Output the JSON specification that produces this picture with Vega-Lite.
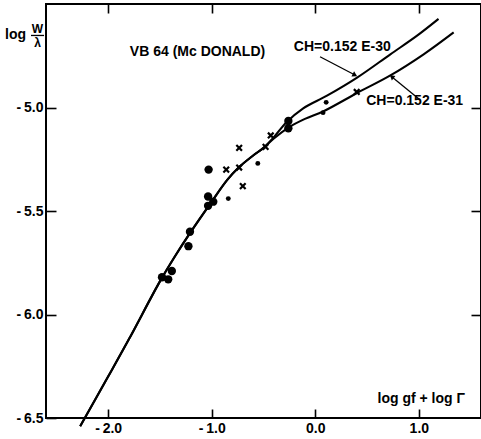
{
  "$schema": "https://vega.github.io/schema/vega-lite/v6.json",
  "width": 435,
  "height": 414,
  "autosize": {"type": "none"},
  "padding": {"left": 46, "top": 4, "right": 0, "bottom": 21},
  "background": "white",
  "config": {
    "view": {"stroke": "#000", "strokeWidth": 2},
    "font": "Liberation Sans",
    "axis": {
      "grid": false,
      "domain": false,
      "tickColor": "#000",
      "tickWidth": 1.6,
      "labelColor": "#000",
      "labelFont": "Liberation Sans",
      "labelFontWeight": "bold",
      "labelFontSize": 14,
      "titleColor": "#000",
      "titleFont": "Liberation Sans",
      "titleFontWeight": "bold",
      "titleFontSize": 14
    }
  },
  "datasets": {
    "curves": [
      {"curve": "CH=0.152 E-30", "x": -2.27, "y": -6.54},
      {"curve": "CH=0.152 E-30", "x": -2.0, "y": -6.30},
      {"curve": "CH=0.152 E-30", "x": -1.8, "y": -6.12},
      {"curve": "CH=0.152 E-30", "x": -1.5, "y": -5.84},
      {"curve": "CH=0.152 E-30", "x": -1.35, "y": -5.715},
      {"curve": "CH=0.152 E-30", "x": -1.21, "y": -5.607},
      {"curve": "CH=0.152 E-30", "x": -1.01, "y": -5.462},
      {"curve": "CH=0.152 E-30", "x": -0.85, "y": -5.35},
      {"curve": "CH=0.152 E-30", "x": -0.74, "y": -5.29},
      {"curve": "CH=0.152 E-30", "x": -0.6, "y": -5.232},
      {"curve": "CH=0.152 E-30", "x": -0.5, "y": -5.195},
      {"curve": "CH=0.152 E-30", "x": -0.4, "y": -5.143},
      {"curve": "CH=0.152 E-30", "x": -0.28, "y": -5.072},
      {"curve": "CH=0.152 E-30", "x": -0.12, "y": -5.005},
      {"curve": "CH=0.152 E-30", "x": 0.113, "y": -4.943},
      {"curve": "CH=0.152 E-30", "x": 0.4, "y": -4.857},
      {"curve": "CH=0.152 E-30", "x": 0.725, "y": -4.743},
      {"curve": "CH=0.152 E-30", "x": 0.983, "y": -4.653},
      {"curve": "CH=0.152 E-30", "x": 1.19, "y": -4.572},
      {"curve": "CH=0.152 E-31", "x": -2.27, "y": -6.54},
      {"curve": "CH=0.152 E-31", "x": -2.0, "y": -6.30},
      {"curve": "CH=0.152 E-31", "x": -1.8, "y": -6.12},
      {"curve": "CH=0.152 E-31", "x": -1.5, "y": -5.84},
      {"curve": "CH=0.152 E-31", "x": -1.35, "y": -5.715},
      {"curve": "CH=0.152 E-31", "x": -1.21, "y": -5.607},
      {"curve": "CH=0.152 E-31", "x": -1.01, "y": -5.462},
      {"curve": "CH=0.152 E-31", "x": -0.85, "y": -5.35},
      {"curve": "CH=0.152 E-31", "x": -0.74, "y": -5.29},
      {"curve": "CH=0.152 E-31", "x": -0.6, "y": -5.232},
      {"curve": "CH=0.152 E-31", "x": -0.5, "y": -5.195},
      {"curve": "CH=0.152 E-31", "x": -0.4, "y": -5.15},
      {"curve": "CH=0.152 E-31", "x": -0.26, "y": -5.097},
      {"curve": "CH=0.152 E-31", "x": -0.1, "y": -5.055},
      {"curve": "CH=0.152 E-31", "x": 0.08, "y": -5.018},
      {"curve": "CH=0.152 E-31", "x": 0.403, "y": -4.93},
      {"curve": "CH=0.152 E-31", "x": 0.725, "y": -4.845},
      {"curve": "CH=0.152 E-31", "x": 1.046, "y": -4.743},
      {"curve": "CH=0.152 E-31", "x": 1.336, "y": -4.637}
    ],
    "points": [
      {"kind": "large dot", "x": -1.48, "y": -5.82},
      {"kind": "large dot", "x": -1.42, "y": -5.83},
      {"kind": "large dot", "x": -1.385, "y": -5.79},
      {"kind": "large dot", "x": -1.21, "y": -5.60},
      {"kind": "large dot", "x": -1.225, "y": -5.67},
      {"kind": "large dot", "x": -1.03, "y": -5.30},
      {"kind": "large dot", "x": -1.035, "y": -5.43},
      {"kind": "large dot", "x": -1.035, "y": -5.475},
      {"kind": "large dot", "x": -0.985, "y": -5.455},
      {"kind": "large dot", "x": -0.26, "y": -5.065},
      {"kind": "large dot", "x": -0.26, "y": -5.10},
      {"kind": "small dot", "x": -0.84, "y": -5.44},
      {"kind": "small dot", "x": -0.555, "y": -5.27},
      {"kind": "small dot", "x": 0.075, "y": -5.025},
      {"kind": "small dot", "x": 0.105, "y": -4.975},
      {"kind": "cross", "x": -0.86, "y": -5.30},
      {"kind": "cross", "x": -0.735, "y": -5.29},
      {"kind": "cross", "x": -0.735, "y": -5.195},
      {"kind": "cross", "x": -0.70, "y": -5.38},
      {"kind": "cross", "x": -0.48, "y": -5.19},
      {"kind": "cross", "x": -0.43, "y": -5.135},
      {"kind": "cross", "x": 0.40, "y": -4.925}
    ],
    "segments": [
      {"name": "E-30 arrow", "x": 0.046, "y": -4.755, "x2": 0.383, "y2": -4.843},
      {"name": "E-31 arrow", "x": 0.995, "y": -4.956, "x2": 0.738, "y2": -4.851},
      {"name": "fraction bar", "x": -2.745, "y": -4.652, "x2": -2.619, "y2": -4.652}
    ],
    "labels": [
      {"text": "VB 64 (Mc DONALD)", "x": -1.137, "y": -4.733},
      {"text": "CH=0.152 E-30", "x": 0.261, "y": -4.71},
      {"text": "CH=0.152 E-31", "x": 0.96, "y": -4.968}
    ],
    "fraction": [
      {"text": "W", "x": -2.682, "y": -4.623},
      {"text": "λ", "x": -2.682, "y": -4.686}
    ]
  },
  "layer": [
    {
      "data": {"name": "curves"},
      "mark": {"type": "line", "color": "#000", "strokeWidth": 2.1, "interpolate": "catmull-rom"},
      "encoding": {
        "x": {
          "field": "x", "type": "quantitative",
          "scale": {"domain": [-2.6, 1.6], "nice": false, "zero": false},
          "axis": {
            "orient": "bottom", "values": [-2, -1, 0, 1], "tickSize": -9, "labelPadding": 12,
            "labelExpr": "datum.value < 0 ? '-\u2009' + format(-datum.value, '.1f') : format(datum.value, '.1f')",
            "title": "log gf + log Γ", "titleX": 331, "titleY": -20, "titleAlign": "left", "titleBaseline": "middle", "titleAnchor": null
          }
        },
        "y": {
          "field": "y", "type": "quantitative",
          "scale": {"domain": [-6.5, -4.5], "nice": false, "zero": false},
          "axis": {
            "orient": "left", "values": [-6.5, -6, -5.5, -5], "tickSize": -10, "labelPadding": 13,
            "labelExpr": "datum.value < 0 ? '-\u2009' + format(-datum.value, '.1f') : format(datum.value, '.1f')",
            "title": "log", "titleAngle": 0, "titleX": -31, "titleY": 30, "titleAlign": "center", "titleBaseline": "middle", "titleAnchor": null
          }
        },
        "detail": {"field": "curve", "type": "nominal"}
      }
    },
    {
      "data": {"name": "points"},
      "transform": [{"filter": "datum.kind !== 'cross'"}],
      "mark": {"type": "point", "shape": "circle", "filled": true, "color": "#000", "opacity": 1},
      "encoding": {
        "x": {"field": "x", "type": "quantitative", "axis": {"orient": "top", "values": [-2, -1, 0, 1], "tickSize": -9, "labels": false, "title": null}},
        "y": {"field": "y", "type": "quantitative", "axis": {"orient": "right", "values": [-6, -5.5, -5], "tickSize": -10, "labels": false, "title": null}},
        "size": {"field": "kind", "type": "nominal", "scale": {"domain": ["large dot", "small dot"], "range": [70, 24]}, "legend": null}
      }
    },
    {
      "data": {"name": "points"},
      "transform": [{"filter": "datum.kind === 'cross'"}],
      "mark": {"type": "point", "shape": "M-1,-1L1,1M-1,1L1,-1", "filled": false, "stroke": "#000", "strokeWidth": 2.2, "size": 32, "opacity": 1},
      "encoding": {
        "x": {"field": "x", "type": "quantitative", "axis": null},
        "y": {"field": "y", "type": "quantitative", "axis": null}
      }
    },
    {
      "data": {"name": "segments"},
      "mark": {"type": "rule", "color": "#000", "strokeWidth": 1.3},
      "encoding": {
        "x": {"field": "x", "type": "quantitative", "axis": null},
        "y": {"field": "y", "type": "quantitative", "axis": null},
        "x2": {"field": "x2"},
        "y2": {"field": "y2"}
      }
    },
    {
      "data": {"name": "segments"},
      "transform": [{"filter": "datum.name === 'E-30 arrow'"}],
      "mark": {"type": "point", "shape": "triangle-right", "filled": true, "color": "#000", "size": 32, "angle": 27.5, "opacity": 1},
      "encoding": {
        "x": {"field": "x2", "type": "quantitative", "axis": null},
        "y": {"field": "y2", "type": "quantitative", "axis": null}
      }
    },
    {
      "data": {"name": "segments"},
      "transform": [{"filter": "datum.name === 'E-31 arrow'"}],
      "mark": {"type": "point", "shape": "triangle-right", "filled": true, "color": "#000", "size": 32, "angle": 219, "opacity": 1},
      "encoding": {
        "x": {"field": "x2", "type": "quantitative", "axis": null},
        "y": {"field": "y2", "type": "quantitative", "axis": null}
      }
    },
    {
      "data": {"name": "labels"},
      "mark": {"type": "text", "font": "Liberation Sans", "fontWeight": "bold", "fontSize": 14, "color": "#000", "align": "center", "baseline": "middle"},
      "encoding": {
        "x": {"field": "x", "type": "quantitative", "axis": null},
        "y": {"field": "y", "type": "quantitative", "axis": null},
        "text": {"field": "text"}
      }
    },
    {
      "data": {"name": "fraction"},
      "mark": {"type": "text", "font": "Liberation Sans", "fontWeight": "bold", "fontSize": 12, "color": "#000", "align": "center", "baseline": "middle"},
      "encoding": {
        "x": {"field": "x", "type": "quantitative", "axis": null},
        "y": {"field": "y", "type": "quantitative", "axis": null},
        "text": {"field": "text"}
      }
    }
  ],
  "resolve": {"axis": {"x": "independent", "y": "independent"}}
}
